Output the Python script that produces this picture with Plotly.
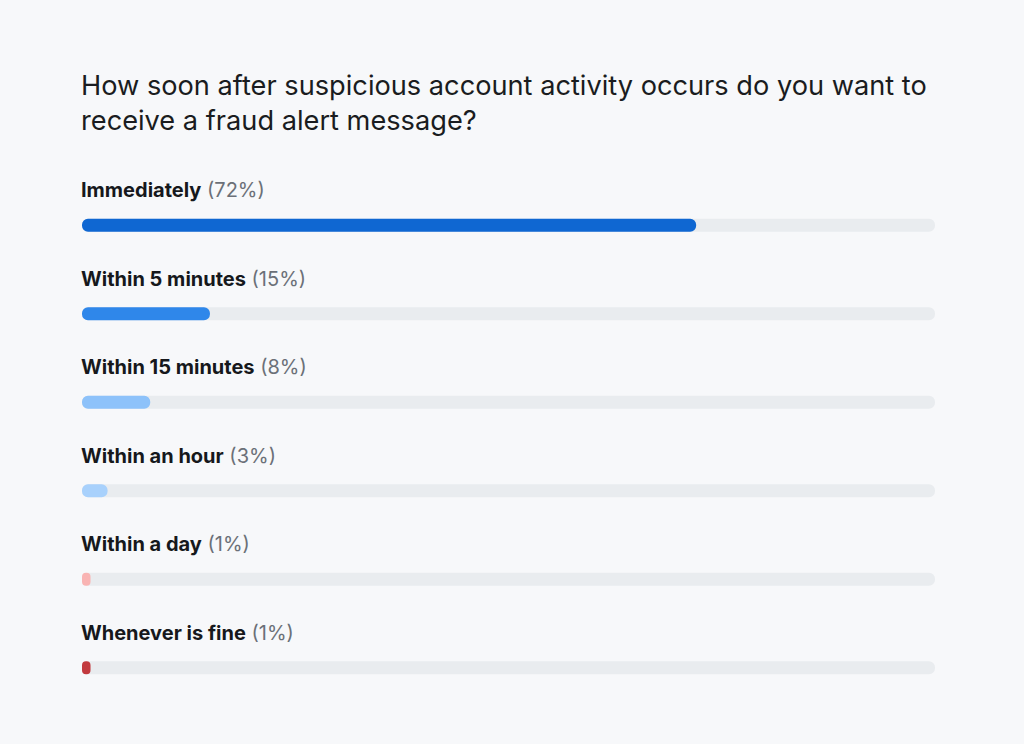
import plotly.graph_objects as go

categories = ["Immediately", "Within 5 minutes", "Within 15 minutes", "Within an hour", "Within a day", "Whenever is fine"]
values = [72, 15, 8, 3, 1, 1]
colors = ["#0f67d2", "#2f87ea", "#8dc2fa", "#a8d1fc", "#f9b4b3", "#c23a3e"]
title_text = "How soon after suspicious account activity occurs do you want to<br>receive a fraud alert message?"
track_total = 100

W, H = 1024, 744
ml, mr, mt, mb = 82, 89, 181, 32
plot_h = H - mt - mb
n = len(categories)
slot = plot_h / n
bar_w = 13 / slot

pos = list(range(n))

fig = go.Figure()
# background tracks (bars drawn from their end back to zero, so both ends get rounded)
fig.add_trace(go.Bar(
    y=pos, x=[-track_total] * n, base=[track_total] * n, orientation="h",
    marker=dict(color="#e9ecef", cornerradius="50%", line=dict(width=0)),
    width=bar_w, hoverinfo="skip", showlegend=False,
))
# value bars
fig.add_trace(go.Bar(
    y=pos, x=[-v for v in values], base=values, orientation="h",
    marker=dict(color=colors, cornerradius="50%", line=dict(width=0)),
    width=bar_w, showlegend=False,
    customdata=values, hovertemplate="%{customdata}%<extra></extra>",
))

annotations = []
for i, (c, v) in enumerate(zip(categories, values)):
    annotations.append(dict(
        x=0, xref="x", y=i, yref="y", xanchor="left", yanchor="middle",
        xshift=-3, yshift=35, showarrow=False, align="left",
        text=f"<b>{c}</b> <span style='color:#6b7078'>({v}%)</span>",
        font=dict(family="Inter, Noto Sans, sans-serif", size=20, color="#16181c"),
    ))
annotations.append(dict(
    x=0, xref="paper", y=1 + (mt - 103.5) / plot_h, yref="paper",
    xanchor="left", yanchor="middle", xshift=-3, showarrow=False, align="left",
    text=title_text,
    font=dict(family="Inter, Noto Sans, sans-serif", size=27.2, color="#1a1c20"),
))

fig.update_layout(
    width=W, height=H,
    margin=dict(l=ml, r=mr, t=mt, b=mb, pad=0),
    paper_bgcolor="#f7f8fa", plot_bgcolor="#f7f8fa",
    barmode="overlay",
    xaxis=dict(range=[0, 100], visible=False, fixedrange=True),
    yaxis=dict(range=[n - 0.5, -0.5], visible=False, fixedrange=True),
    annotations=annotations,
)

fig.write_html(
    "out.html",
    config={"displayModeBar": False},
    post_script="document.body.style.margin='0';document.body.style.background='#f7f8fa';",
)
